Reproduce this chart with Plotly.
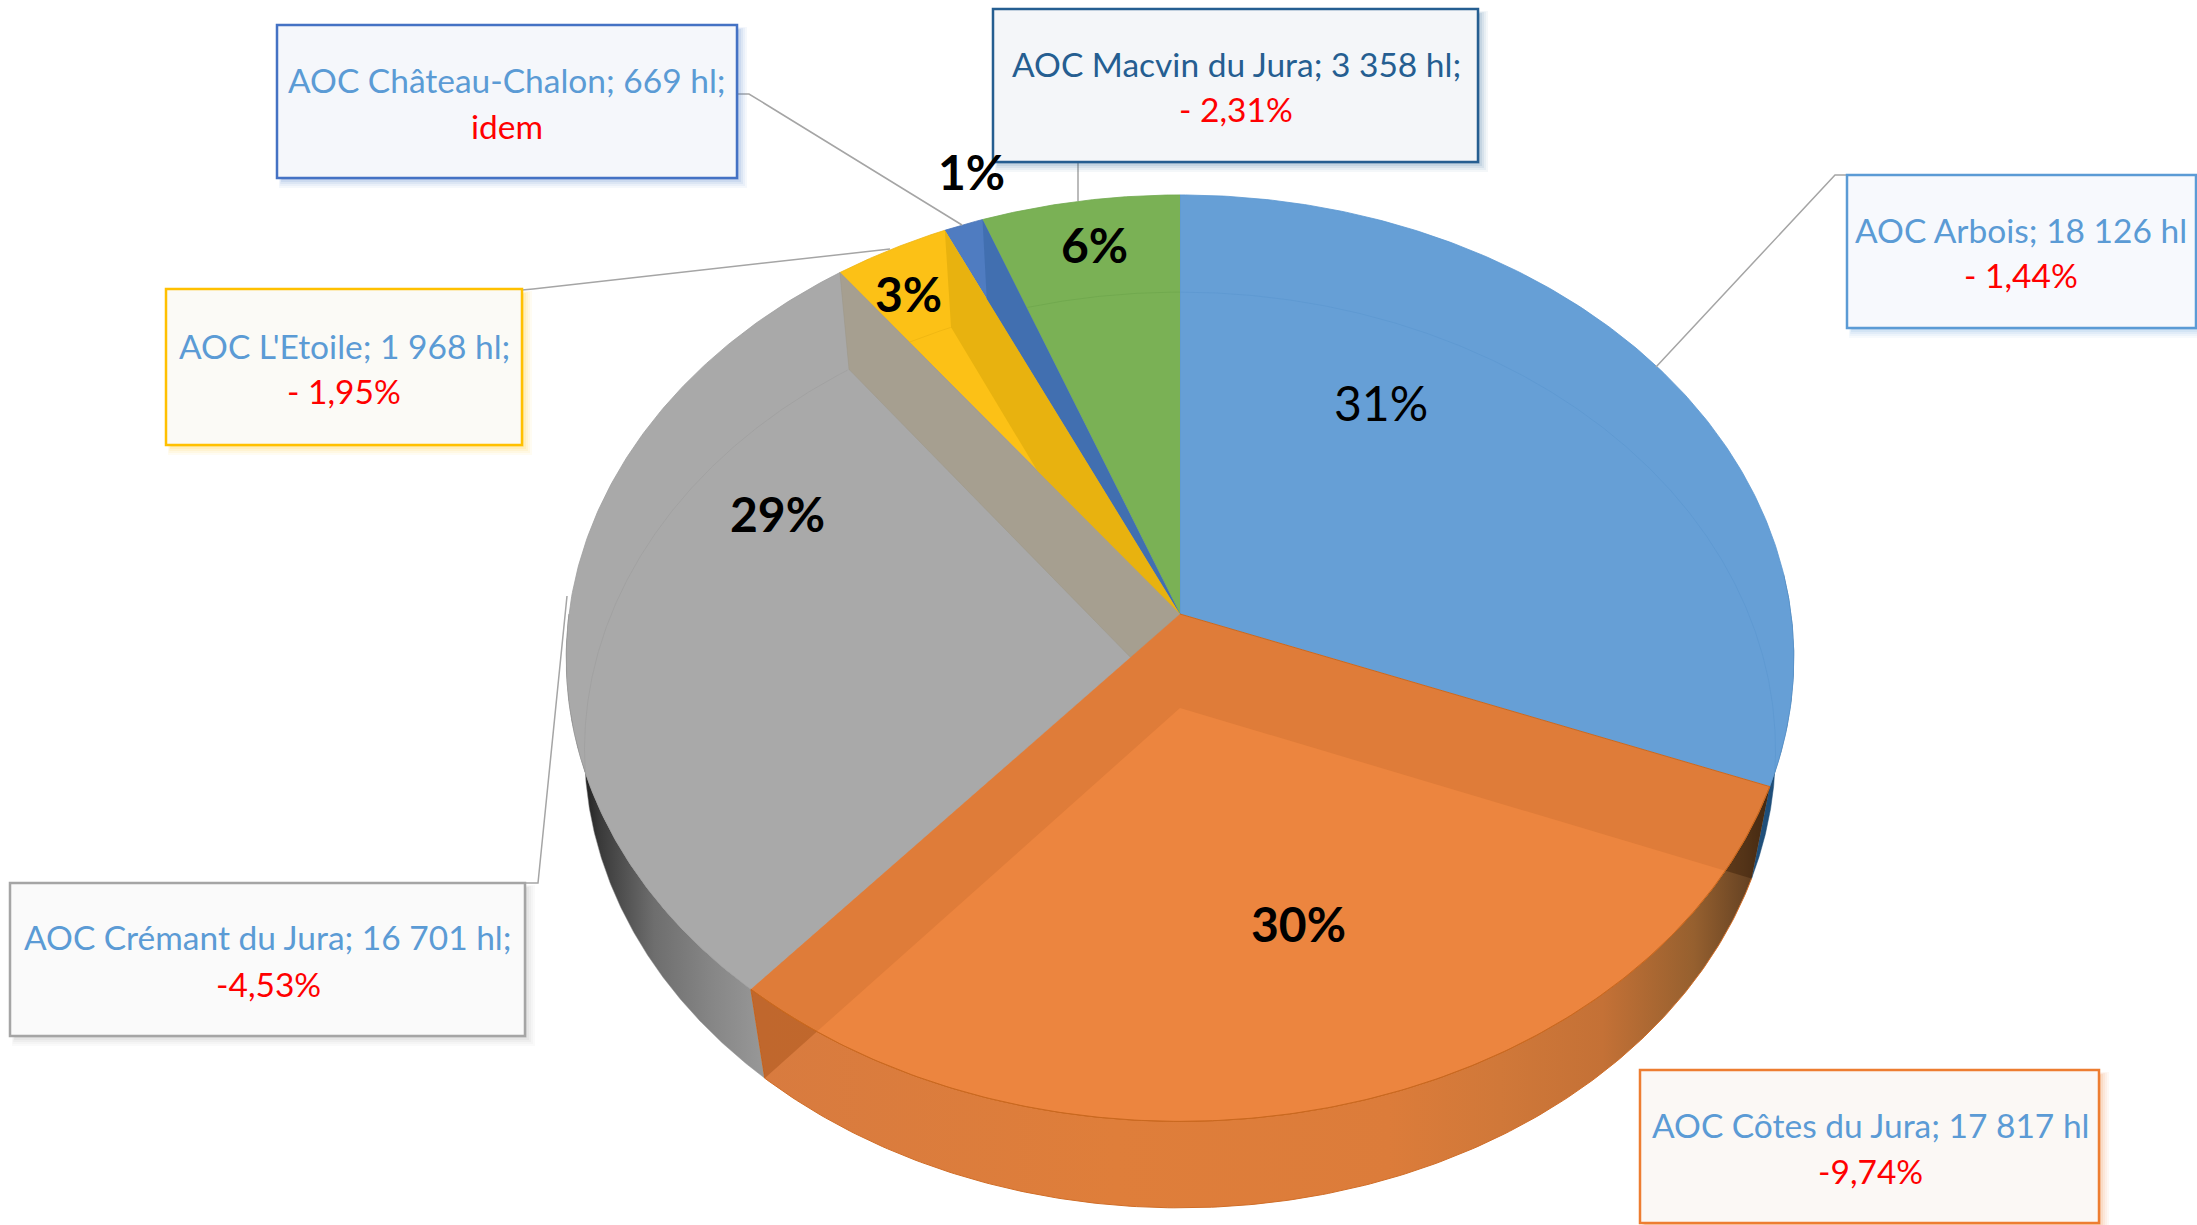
import numpy as np
import plotly.graph_objects as go

# ---------- data ----------
categories = ["AOC Arbois", "AOC Côtes du Jura", "AOC Crémant du Jura",
              "AOC L'Etoile", "AOC Château-Chalon", "AOC Macvin du Jura"]
volumes_hl = [18126, 17817, 16701, 1968, 669, 3358]
pct_labels = ["31%", "30%", "29%", "3%", "1%", "6%"]
box_line1 = ["AOC Arbois; 18 126 hl", "AOC Côtes du Jura; 17 817 hl", "AOC Crémant du Jura; 16 701 hl;",
             "AOC L'Etoile; 1 968 hl;", "AOC Château-Chalon; 669 hl;", "AOC Macvin du Jura; 3 358 hl;"]
box_line2 = ["- 1,44%", "-9,74%", "-4,53%", "- 1,95%", "idem", "- 2,31%"]

# ---------- style / layout ----------
W, H = 2197, 1225
FONT = "Lato"
top_col = ["#669fd6", "#df7c39", "#a9a9a9", "#fcc116", "#4f7cc1", "#7ab155"]
line_col = ["#5b97d0", "#c9681f", "#9e9e9e", "#eeb512", "#4a75b8", "#70a84e"]
arc_col = ["#5d98d0", "#c9681f", "#9f9f9f", "#eeb512", "#4a75b8", "#6fa74d"]
orange_bright = "#ec853f"
tan = "#a69f90"
dark_yellow = "#e8b20f"
dark_chalon = "#416fb0"
border_col = ["#5b9bd5", "#ed7d31", "#a5a5a5", "#ffc000", "#4472c4", "#255e91"]
box_fill = ["#f7f9fd", "#fbf8f5", "#fafafa", "#fbfaf6", "#f5f7fb", "#f4f6f9"]
text_col = ["#5b9bd5", "#5b9bd5", "#5b9bd5", "#5b9bd5", "#5b9bd5", "#255e91"]
boxes = [(1847, 175, 2196, 328), (1640, 1070, 2099, 1223), (10, 883, 525, 1036),
         (166, 289, 522, 445), (277, 25, 737, 178), (993, 9, 1478, 162)]
text_pos = [(2021, 230, 275), (1870, 1125, 1171), (268, 937, 984),
            (344, 346, 391), (507, 80, 126), (1236, 64, 109)]
leaders = [[(1847, 175), (1835, 175), (1656, 367)],
           None,
           [(525, 883), (538, 883), (567, 596)],
           [(522, 290), (533, 289), (890, 249)],
           [(737, 94), (749, 94), (962, 225)],
           [(1078, 162), (1078, 201)]]
pct_pos = [(1381, 402.5), (1298, 923.5), (777, 513.5), (908, 293.5), (971, 171.5), (1094, 244.5)]
pct_bold = [False, True, True, True, True, True]
PCT_SIZE = 48
BOX_SIZE = 33.5

# projective model of the tilted disc
CX = 1180
TOP = dict(cy=614, R=611, H=459, k=0.0953)
BOT = dict(cy=708, R=593, H=454, k=0.0917)


def proj(theta, d):
    t = np.radians(np.asarray(theta, dtype=float))
    u, v = np.sin(t), np.cos(t)
    s = 1 / (1 + d["k"] * v)
    return np.column_stack([CX + d["R"] * u * s, d["cy"] - d["H"] * v * s])


def arc(a, b, d, n=200):
    return proj(np.linspace(a, b, n), d)


def wedge(a, b, d):
    return np.vstack([[[CX, d["cy"]]], arc(a, b, d)])


def clip(subject, clipper):
    """Sutherland-Hodgman clipping against a convex polygon."""
    c = np.asarray(clipper)
    x, y = c[:, 0], c[:, 1]
    area = np.sum(x * np.roll(y, -1) - np.roll(x, -1) * y)
    sign = 1 if area > 0 else -1
    out = [tuple(p) for p in subject]
    for i in range(len(c)):
        a, b = c[i], c[(i + 1) % len(c)]
        if np.hypot(*(b - a)) < 1e-9:
            continue
        side = lambda p: sign * ((b[0] - a[0]) * (p[1] - a[1]) - (b[1] - a[1]) * (p[0] - a[0]))
        inp, out = out, []
        for j in range(len(inp)):
            p, q = inp[j], inp[(j + 1) % len(inp)]
            sp, sq = side(p), side(q)
            if sp >= 0:
                out.append(p)
            if (sp >= 0) != (sq >= 0):
                f = sp / (sp - sq)
                out.append((p[0] + f * (q[0] - p[0]), p[1] + f * (q[1] - p[1])))
        if not out:
            break
    return np.array(out) if out else np.empty((0, 2))


def inside(pts, poly):
    c = np.asarray(poly)
    x, y = c[:, 0], c[:, 1]
    sign = 1 if np.sum(x * np.roll(y, -1) - np.roll(x, -1) * y) > 0 else -1
    mask = np.ones(len(pts), bool)
    for i in range(len(c)):
        a, b = c[i], c[(i + 1) % len(c)]
        mask &= sign * ((b[0] - a[0]) * (pts[:, 1] - a[1]) - (b[1] - a[1]) * (pts[:, 0] - a[0])) >= -1e-6
    return mask


def radial_wall(a):
    return np.vstack([[[CX, TOP["cy"]]], proj([a], TOP), proj([a], BOT), [[CX, BOT["cy"]]]])


fig = go.Figure()


def fill(poly, color=None, line=None, lw=1.0, grad=None, name=""):
    kw = dict(fillgradient=grad) if grad else dict(fillcolor=color)
    fig.add_trace(go.Scatter(
        x=poly[:, 0], y=poly[:, 1], mode="lines", fill="toself", name=name,
        line=dict(color=line or "rgba(0,0,0,0)", width=lw),
        hoverinfo="name" if name else "skip", showlegend=False, **kw))


def stroke(pts, color, lw=1.0):
    fig.add_trace(go.Scatter(x=pts[:, 0], y=pts[:, 1], mode="lines",
                             line=dict(color=color, width=lw),
                             hoverinfo="skip", showlegend=False))


# ---------- angles from the data ----------
vals = np.array(volumes_hl, dtype=float)
edges = np.concatenate([[0], np.cumsum(vals) / vals.sum() * 360])
A = [(edges[i], edges[i + 1]) for i in range(len(vals))]
top_wedges = [wedge(a, b, TOP) for a, b in A]

# ---------- outer walls ----------
th1, th2, th3, th4, th5 = edges[1:6]
fill(np.vstack([arc(85, th1, TOP), arc(th1, 85, BOT)]), "#1f4e79", "#1f4e79", 0.5)
fill(np.vstack([arc(th2, 270, TOP), arc(270, th2, BOT)]), line="#8a8a8a", lw=0.5,
     grad=dict(type="horizontal", start=577, stop=770,
               colorscale=[[0, "#151515"], [0.12, "#3a3a3a"], [0.4, "#6e6e6e"], [0.7, "#868686"], [1, "#9a9a9a"]]))
fill(np.vstack([arc(th1, th2, TOP), arc(th2, th1, BOT)]), line="#d06d27", lw=1,
     grad=dict(type="horizontal", start=760, stop=1775,
               colorscale=[[0, "#d87b3f"], [0.35, "#df7e3a"], [0.62, "#dc7c3a"], [0.73, "#d07839"], [0.83, "#c47136"],
                           [0.92, "#96602f"], [0.97, "#6a4524"], [1, "#4a3018"]]))
fill(radial_wall(th2), "rgba(130,55,0,0.28)")
fill(radial_wall(th1), "rgba(50,25,5,0.40)")

# ---------- top faces ----------
for i in [0, 5, 4, 3, 2]:
    fill(top_wedges[i], top_col[i], line_col[i], 0.8, name=categories[i])

fill(clip(radial_wall(th3), top_wedges[2]), tan, "#9c9686", 0.5)
fill(clip(radial_wall(th4), top_wedges[3]), dark_yellow)
fill(clip(radial_wall(th5), top_wedges[4]), dark_chalon)

# inner arcs of the lower disc seen through the upper one
dense = np.linspace(0, 360, 1441)
lower = proj(dense, BOT)
for i in [0, 2, 3, 5]:
    a, b = A[i]
    mask = (dense >= a) & (dense <= b) & inside(lower, top_wedges[i])
    if i == 2:
        mask &= ~inside(lower, clip(radial_wall(th3), top_wedges[2]))
    if mask.sum() > 1:
        stroke(lower[mask], arc_col[i], 0.8)

fill(top_wedges[1], top_col[1], line_col[1], 1, name=categories[1])
bright = clip(wedge(th1, th2, BOT), top_wedges[1])
fill(bright, orange_bright)
stroke(arc(th1, th2, TOP), line_col[1], 1)

# ---------- leaders ----------
for pts in leaders:
    if pts:
        stroke(np.array(pts, float), "#a5a5a5", 1.5)

# ---------- boxes ----------
shapes = []
for (x0, y0, x1, y1), bc, fc in zip(boxes, border_col, box_fill):
    for d, op in [(9, 0.05), (7, 0.06), (5, 0.08), (3, 0.10), (1, 0.12)]:
        shapes.append(dict(type="rect", x0=x0 + 5 - d / 3, y0=y0 + 5 - d / 3, x1=x1 + 1 + d, y1=y1 + 1 + d,
                           fillcolor=bc, opacity=op, line=dict(width=0), layer="above"))
    shapes.append(dict(type="rect", x0=x0, y0=y0, x1=x1, y1=y1, fillcolor=fc,
                       line=dict(color=bc, width=2.5), layer="above"))

# ---------- texts ----------
ann = []


def text(x, y, s, color, size):
    ann.append(dict(x=x, y=y, xref="x", yref="y", text=s, showarrow=False, xanchor="center", yanchor="middle",
                    font=dict(family=FONT, size=size, color=color)))


for (x, y1, y2), s1, s2, c in zip(text_pos, box_line1, box_line2, text_col):
    text(x, y1, s1, c, BOX_SIZE)
    text(x, y2, s2, "#ff0000", BOX_SIZE)
for (x, y), s, b in zip(pct_pos, pct_labels, pct_bold):
    text(x, y, f"<b>{s}</b>" if b else s, "#000000", PCT_SIZE)

fig.update_layout(
    width=W, height=H, margin=dict(l=0, r=0, t=0, b=0), showlegend=False,
    paper_bgcolor="white", plot_bgcolor="white", shapes=shapes, annotations=ann,
    xaxis=dict(range=[0, W], visible=False, fixedrange=True),
    yaxis=dict(range=[H, 0], visible=False, fixedrange=True),
)
fig.write_html("out.html", config=dict(displayModeBar=False),
               post_script="document.body.style.margin='0';document.documentElement.style.overflow='hidden';")
